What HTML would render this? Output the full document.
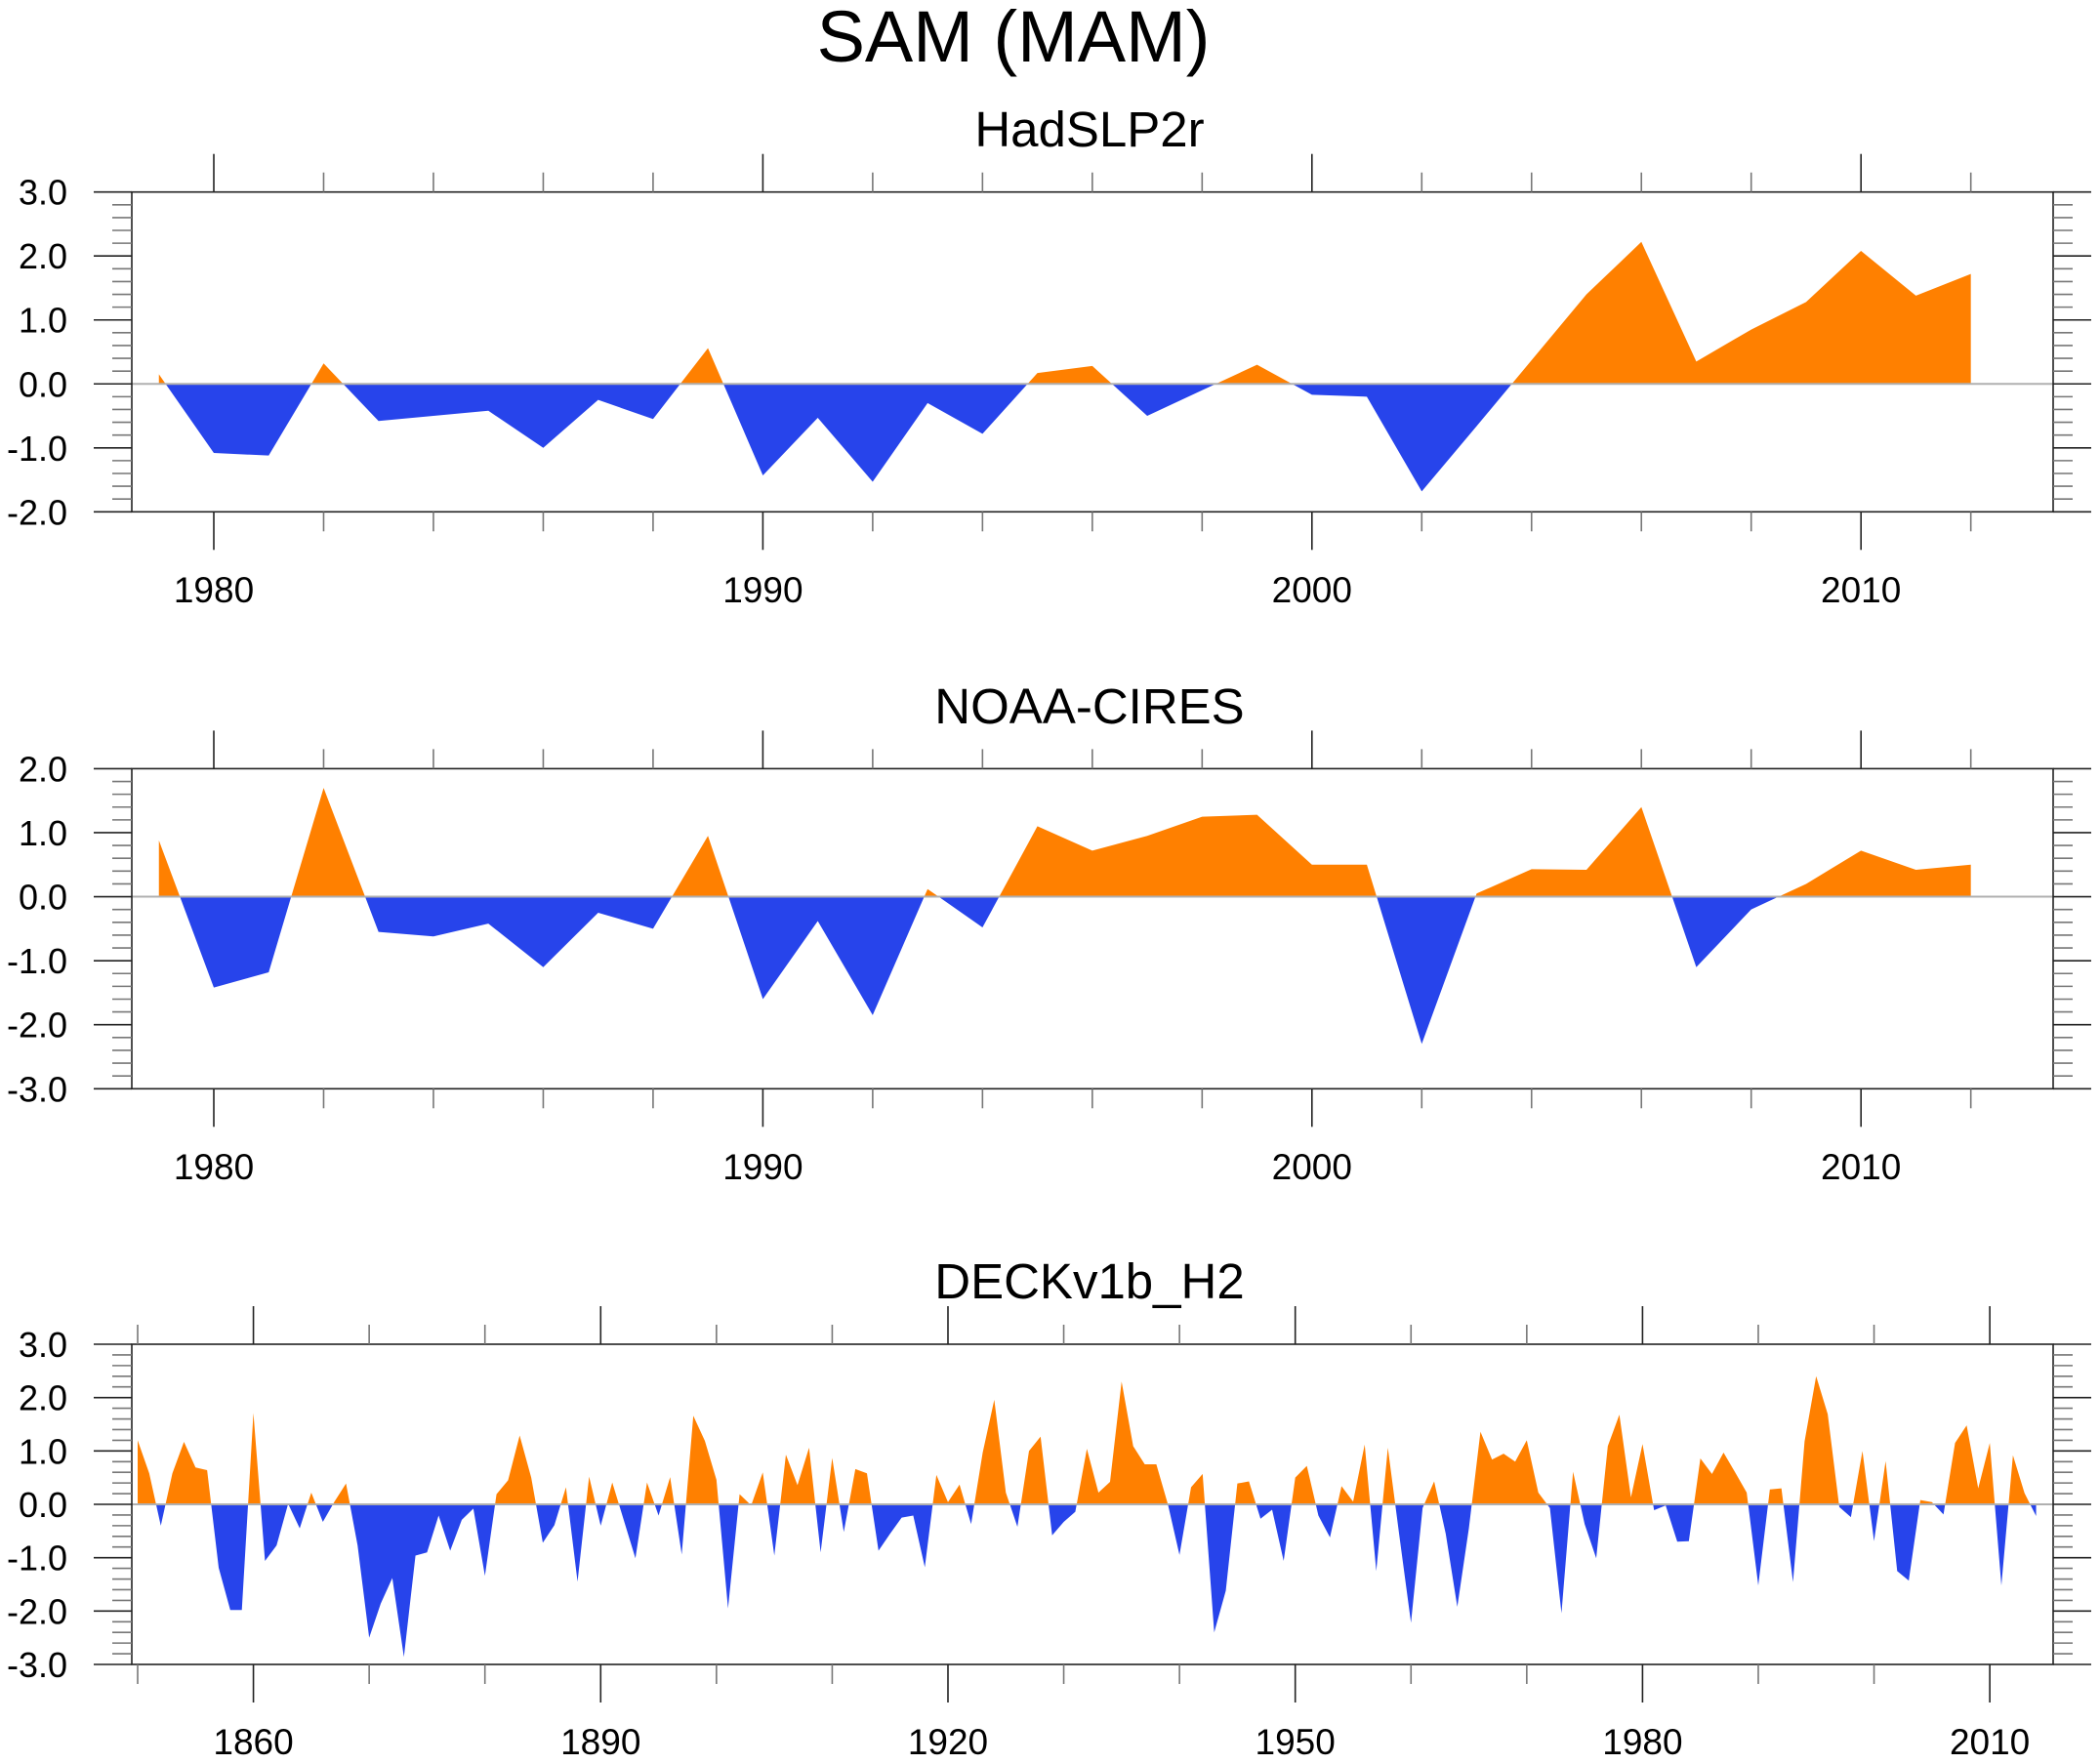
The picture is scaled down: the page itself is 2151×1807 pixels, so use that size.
<!DOCTYPE html>
<html><head><meta charset="utf-8"><style>
html,body{margin:0;padding:0;background:#fff;}
svg{display:block;font-family:"Liberation Sans",sans-serif;}
</style></head><body>
<svg id="chart" width="2151" height="1807" viewBox="0 0 2151 1807" xmlns="http://www.w3.org/2000/svg">
<rect x="0" y="0" width="2151" height="1807" fill="#fff"/>
<text x="1038" y="63" font-size="74" text-anchor="middle">SAM (MAM)</text>
<g id="panels"></g>
</svg>
<script>
// ---- Data ----
const hadYears = [1979,1980,1981,1982,1983,1984,1985,1986,1987,1988,1989,1990,1991,1992,1993,1994,1995,1996,1997,1998,1999,2000,2001,2002,2003,2004,2005,2006,2007,2008,2009,2010,2011,2012];
const hadValues = [0.15,-1.08,-1.12,0.32,-0.58,-0.5,-0.42,-1.0,-0.25,-0.55,0.56,-1.43,-0.53,-1.53,-0.3,-0.78,0.17,0.28,-0.5,-0.1,0.3,-0.17,-0.2,-1.68,-0.66,0.37,1.4,2.22,0.35,0.85,1.28,2.08,1.38,1.72];
const noaaYears = hadYears.slice();
const noaaValues = [0.88,-1.42,-1.18,1.7,-0.55,-0.62,-0.42,-1.1,-0.25,-0.5,0.95,-1.6,-0.38,-1.85,0.12,-0.48,1.1,0.72,0.95,1.25,1.28,0.5,0.5,-2.3,0.05,0.43,0.42,1.4,-1.1,-0.2,0.2,0.72,0.42,0.5];
const deckStartYear = 1850;
const deckValues = [
1.20,0.58,-0.40,0.58,1.17,0.69,0.64,-1.19,-1.98,-1.98,
1.71,-1.06,-0.77,0.01,-0.45,0.22,-0.33,0.05,0.39,-0.77,
-2.50,-1.86,-1.38,-2.86,-0.96,-0.90,-0.21,-0.87,-0.29,-0.08,
-1.34,0.19,0.45,1.29,0.50,-0.72,-0.39,0.32,-1.45,0.52,
-0.40,0.41,-0.30,-1.01,0.41,-0.21,0.51,-0.94,1.66,1.19,
0.46,-1.95,0.19,-0.02,0.60,-0.96,0.93,0.36,1.06,-0.90,
0.87,-0.52,0.66,0.58,-0.87,-0.55,-0.25,-0.21,-1.18,0.55,
0.04,0.37,-0.37,0.97,1.96,0.22,-0.42,1.00,1.27,-0.58,
-0.33,-0.14,1.04,0.22,0.42,2.30,1.09,0.75,0.75,0.00,
-0.95,0.32,0.57,-2.40,-1.62,0.39,0.43,-0.27,-0.10,-1.06,
0.50,0.72,-0.21,-0.62,0.34,0.05,1.12,-1.25,1.06,-0.60,
-2.22,-0.07,0.43,-0.55,-1.92,-0.45,1.36,0.84,0.95,0.80,
1.20,0.22,-0.07,-2.04,0.61,-0.37,-1.01,1.09,1.68,0.13,
1.13,-0.11,-0.02,-0.70,-0.69,0.86,0.57,0.97,0.60,0.22,
-1.52,0.28,0.30,-1.46,1.18,2.40,1.69,-0.05,-0.24,1.00,
-0.69,0.81,-1.25,-1.43,0.08,0.04,-0.19,1.15,1.48,0.30,
1.15,-1.52,0.92,0.21,-0.22];
const deckYears = deckValues.map((v,i)=>deckStartYear+i);
const ticks1 = [3,2,1,0,-1,-2];
const ticks2 = [2,1,0,-1,-2,-3];
const ticks3 = [3,2,1,0,-1,-2,-3];
const xLabels12 = [1980,1990,2000,2010];
const xLabels3 = [1860,1890,1920,1950,1980,2010];

const NS="http://www.w3.org/2000/svg";
const root=document.getElementById('panels');
function mk(tag,attrs,parent){const e=document.createElementNS(NS,tag);for(const k in attrs)e.setAttribute(k,attrs[k]);(parent||root).appendChild(e);return e;}

const L=135,R=2103;
function panel(cfg){
  const g=mk('g',{});
  
  
  const ymax=cfg.ymax,ymin=cfg.ymin,T=cfg.top,B=cfg.bottom;
  const yS=v=>T+(ymax-v)/(ymax-ymin)*(B-T);
  const xS=cfg.xS;
  const pts=[];
  for(let i=0;i<cfg.years.length;i++){
    const x=xS(cfg.years[i]),v=cfg.values[i];
    if(i>0){const pv=cfg.values[i-1];
      if((pv>0&&v<0)||(pv<0&&v>0)){const px=xS(cfg.years[i-1]);const t=pv/(pv-v);pts.push([px+t*(x-px),0]);}}
    pts.push([x,v]);
  }
  const x0=pts[0][0],x1=pts[pts.length-1][0],y0=yS(0);
  const posD='M'+x0+','+y0+' '+pts.map(p=>'L'+p[0].toFixed(2)+','+yS(Math.max(p[1],0)).toFixed(2)).join(' ')+' L'+x1+','+y0+' Z';
  const negD='M'+x0+','+y0+' '+pts.map(p=>'L'+p[0].toFixed(2)+','+yS(Math.min(p[1],0)).toFixed(2)).join(' ')+' L'+x1+','+y0+' Z';
  const pos=mk('path',{d:posD,fill:'#ff8000'},g);
  
  
  const neg=mk('path',{d:negD,fill:'#2744eb'},g);
  
  
  const zl=mk('line',{x1:L,x2:R,y1:y0,y2:y0,stroke:'#b0b0b0','stroke-width':2},g);
  
  
  const fr=mk('rect',{x:L,y:T,width:R-L,height:B-T,fill:'none',stroke:'#222','stroke-width':1.6},g);
  
  
  for(let k=Math.round(ymin*5);k<=Math.round(ymax*5);k++){
    const v=k/5,y=yS(v),maj=(k%5===0);
    const len=maj?39:20;
    mk('line',{x1:L-len,x2:L,y1:y,y2:y,stroke:maj?'#222':'#777','stroke-width':1.6},g);
    mk('line',{x1:R,x2:R+len,y1:y,y2:y,stroke:maj?'#222':'#777','stroke-width':1.6},g);
  }
  cfg.yTicks.forEach(v=>{
    const t=mk('text',{x:69,y:yS(v)+13,'font-size':36,'text-anchor':'end'},g);
    t.textContent=v.toFixed(1);
    
    
  });
  for(let yr=cfg.xTickStart;yr<=cfg.xTickEnd;yr+=cfg.minorStep){
    const x=xS(yr),maj=((yr-cfg.majorBase)%cfg.majorStep===0);
    const len=maj?39:20;
    mk('line',{x1:x,x2:x,y1:T-len,y2:T,stroke:maj?'#222':'#777','stroke-width':1.6},g);
    mk('line',{x1:x,x2:x,y1:B,y2:B+len,stroke:maj?'#222':'#777','stroke-width':1.6},g);
  }
  cfg.xLabels.forEach(yr=>{
    const t=mk('text',{x:xS(yr),y:cfg.labelY,'font-size':37,'text-anchor':'middle'},g);
    t.textContent=yr;
    
    
  });
  const tt=mk('text',{x:1116,y:cfg.titleY,'font-size':51,'text-anchor':'middle'},g);
  tt.textContent=cfg.title;
  
  
}
const xS12=yr=>219+(yr-1980)*56.24;
const xS3=yr=>141+(yr-1850)*11.857;
panel({name:'hadslp2r',title:'HadSLP2r',years:hadYears,values:hadValues,ymax:3,ymin:-2,top:196.7,bottom:524.3,xS:xS12,yTicks:ticks1,xLabels:xLabels12,xTickStart:1980,xTickEnd:2012,minorStep:2,majorBase:1980,majorStep:10,labelY:617,titleY:150});
panel({name:'noaa-cires',title:'NOAA-CIRES',years:noaaYears,values:noaaValues,ymax:2,ymin:-3,top:787.4,bottom:1115.3,xS:xS12,yTicks:ticks2,xLabels:xLabels12,xTickStart:1980,xTickEnd:2012,minorStep:2,majorBase:1980,majorStep:10,labelY:1208,titleY:741});
panel({name:'deckv1b-h2',title:'DECKv1b_H2',years:deckYears,values:deckValues,ymax:3,ymin:-3,top:1377,bottom:1705,xS:xS3,yTicks:ticks3,xLabels:xLabels3,xTickStart:1850,xTickEnd:2010,minorStep:10,majorBase:1860,majorStep:30,labelY:1797,titleY:1330});
</script>
</body></html>
